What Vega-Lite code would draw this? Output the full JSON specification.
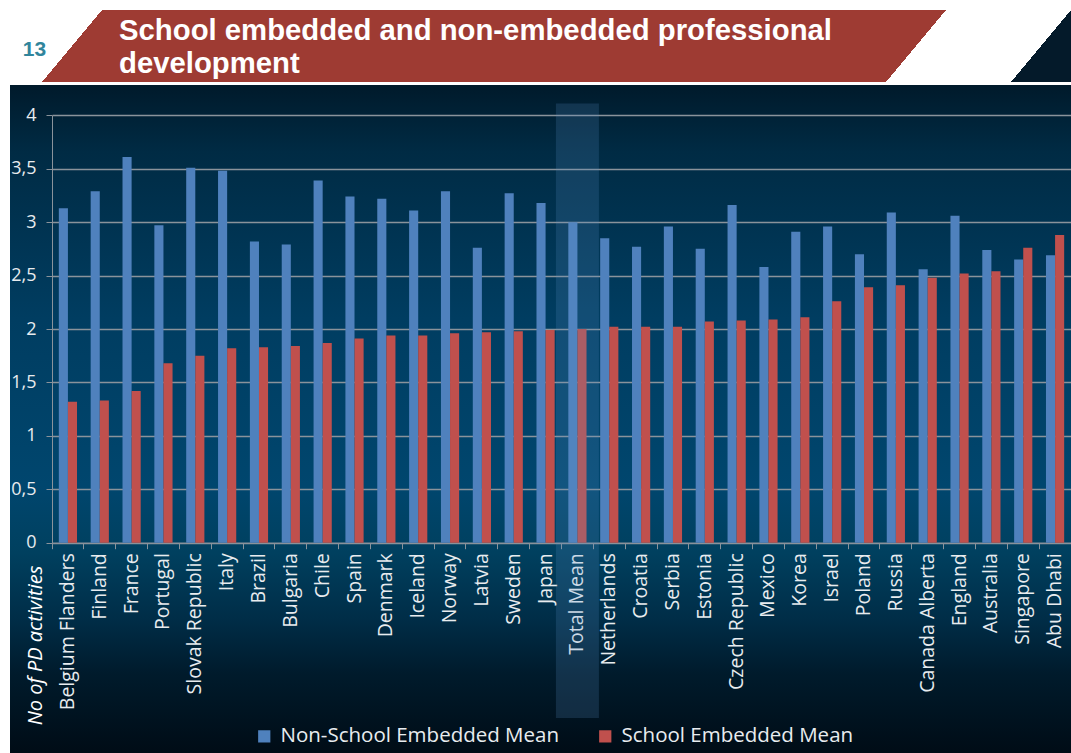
{
  "$schema": "https://vega.github.io/schema/vega-lite/v6.json",
  "background": "#ffffff",
  "padding": {"left": 10, "top": 10, "right": 0, "bottom": 0},
  "autosize": {"type": "pad"},
  "bounds": "flush",
  "spacing": 3,
  "title": {
    "text": "13",
    "anchor": "start",
    "frame": "group",
    "orient": "top",
    "offset": -50.2,
    "dx": 12.7,
    "baseline": "top",
    "color": "#31859c",
    "font": "Liberation Sans",
    "fontSize": 21,
    "fontWeight": "bold"
  },
  "config": {
    "font": "Open Sans",
    "view": {"stroke": null},
    "legend": {
      "orient": "none",
      "legendX": 244,
      "legendY": 716,
      "direction": "horizontal",
      "symbolType": "square",
      "symbolSize": 150,
      "symbolStrokeWidth": 0,
      "labelFont": "Open Sans",
      "labelFontSize": 20.5,
      "labelColor": "#e8ecef",
      "labelOffset": 6,
      "columnPadding": 35,
      "labelLimit": 0
    }
  },
  "datasets": {
    "pd": [
      {"country": "Belgium Flanders", "series": "Non-School Embedded Mean", "value": 3.13},
      {"country": "Belgium Flanders", "series": "School Embedded Mean", "value": 1.32},
      {"country": "Finland", "series": "Non-School Embedded Mean", "value": 3.29},
      {"country": "Finland", "series": "School Embedded Mean", "value": 1.33},
      {"country": "France", "series": "Non-School Embedded Mean", "value": 3.61},
      {"country": "France", "series": "School Embedded Mean", "value": 1.42},
      {"country": "Portugal", "series": "Non-School Embedded Mean", "value": 2.97},
      {"country": "Portugal", "series": "School Embedded Mean", "value": 1.68},
      {"country": "Slovak Republic", "series": "Non-School Embedded Mean", "value": 3.51},
      {"country": "Slovak Republic", "series": "School Embedded Mean", "value": 1.75},
      {"country": "Italy", "series": "Non-School Embedded Mean", "value": 3.48},
      {"country": "Italy", "series": "School Embedded Mean", "value": 1.82},
      {"country": "Brazil", "series": "Non-School Embedded Mean", "value": 2.82},
      {"country": "Brazil", "series": "School Embedded Mean", "value": 1.83},
      {"country": "Bulgaria", "series": "Non-School Embedded Mean", "value": 2.79},
      {"country": "Bulgaria", "series": "School Embedded Mean", "value": 1.84},
      {"country": "Chile", "series": "Non-School Embedded Mean", "value": 3.39},
      {"country": "Chile", "series": "School Embedded Mean", "value": 1.87},
      {"country": "Spain", "series": "Non-School Embedded Mean", "value": 3.24},
      {"country": "Spain", "series": "School Embedded Mean", "value": 1.91},
      {"country": "Denmark", "series": "Non-School Embedded Mean", "value": 3.22},
      {"country": "Denmark", "series": "School Embedded Mean", "value": 1.94},
      {"country": "Iceland", "series": "Non-School Embedded Mean", "value": 3.11},
      {"country": "Iceland", "series": "School Embedded Mean", "value": 1.94},
      {"country": "Norway", "series": "Non-School Embedded Mean", "value": 3.29},
      {"country": "Norway", "series": "School Embedded Mean", "value": 1.96},
      {"country": "Latvia", "series": "Non-School Embedded Mean", "value": 2.76},
      {"country": "Latvia", "series": "School Embedded Mean", "value": 1.97},
      {"country": "Sweden", "series": "Non-School Embedded Mean", "value": 3.27},
      {"country": "Sweden", "series": "School Embedded Mean", "value": 1.98},
      {"country": "Japan", "series": "Non-School Embedded Mean", "value": 3.18},
      {"country": "Japan", "series": "School Embedded Mean", "value": 1.99},
      {"country": "Total Mean", "series": "Non-School Embedded Mean", "value": 3.0},
      {"country": "Total Mean", "series": "School Embedded Mean", "value": 2.0},
      {"country": "Netherlands", "series": "Non-School Embedded Mean", "value": 2.85},
      {"country": "Netherlands", "series": "School Embedded Mean", "value": 2.02},
      {"country": "Croatia", "series": "Non-School Embedded Mean", "value": 2.77},
      {"country": "Croatia", "series": "School Embedded Mean", "value": 2.02},
      {"country": "Serbia", "series": "Non-School Embedded Mean", "value": 2.96},
      {"country": "Serbia", "series": "School Embedded Mean", "value": 2.02},
      {"country": "Estonia", "series": "Non-School Embedded Mean", "value": 2.75},
      {"country": "Estonia", "series": "School Embedded Mean", "value": 2.07},
      {"country": "Czech Republic", "series": "Non-School Embedded Mean", "value": 3.16},
      {"country": "Czech Republic", "series": "School Embedded Mean", "value": 2.08},
      {"country": "Mexico", "series": "Non-School Embedded Mean", "value": 2.58},
      {"country": "Mexico", "series": "School Embedded Mean", "value": 2.09},
      {"country": "Korea", "series": "Non-School Embedded Mean", "value": 2.91},
      {"country": "Korea", "series": "School Embedded Mean", "value": 2.11},
      {"country": "Israel", "series": "Non-School Embedded Mean", "value": 2.96},
      {"country": "Israel", "series": "School Embedded Mean", "value": 2.26},
      {"country": "Poland", "series": "Non-School Embedded Mean", "value": 2.7},
      {"country": "Poland", "series": "School Embedded Mean", "value": 2.39},
      {"country": "Russia", "series": "Non-School Embedded Mean", "value": 3.09},
      {"country": "Russia", "series": "School Embedded Mean", "value": 2.41},
      {"country": "Canada Alberta", "series": "Non-School Embedded Mean", "value": 2.56},
      {"country": "Canada Alberta", "series": "School Embedded Mean", "value": 2.48},
      {"country": "England", "series": "Non-School Embedded Mean", "value": 3.06},
      {"country": "England", "series": "School Embedded Mean", "value": 2.52},
      {"country": "Australia", "series": "Non-School Embedded Mean", "value": 2.74},
      {"country": "Australia", "series": "School Embedded Mean", "value": 2.54},
      {"country": "Singapore", "series": "Non-School Embedded Mean", "value": 2.65},
      {"country": "Singapore", "series": "School Embedded Mean", "value": 2.76},
      {"country": "Abu Dhabi", "series": "Non-School Embedded Mean", "value": 2.69},
      {"country": "Abu Dhabi", "series": "School Embedded Mean", "value": 2.88}
    ]
  },
  "vconcat": [
    {
      "width": 1061,
      "height": 72,
      "view": {
        "stroke": null,
        "fill": {
          "gradient": "linear",
          "x1": 0, "y1": 0, "x2": 1, "y2": 0.05655,
          "stops": [
            {"offset": 0, "color": "#ffffff"},
            {"offset": 0.086435, "color": "#ffffff"},
            {"offset": 0.086435, "color": "#9e3b33"},
            {"offset": 0.879375, "color": "#9e3b33"},
            {"offset": 0.879375, "color": "#ffffff"},
            {"offset": 0.996812, "color": "#ffffff"},
            {"offset": 0.996812, "color": "#041a2a"},
            {"offset": 1, "color": "#041a2a"}
          ]
        }
      },
      "title": {
        "text": ["School embedded and non-embedded professional", "development"],
        "anchor": "start",
        "frame": "group",
        "orient": "bottom",
        "offset": -65,
        "dx": 109,
        "baseline": "top",
        "color": "#ffffff",
        "font": "Liberation Sans",
        "fontSize": 29.3,
        "fontWeight": "bold",
        "lineHeight": 33
      },
      "data": {"values": [{}]},
      "mark": {"type": "text", "text": ""},
      "encoding": {}
    },
    {
      "width": 1061,
      "height": 668,
      "view": {
        "stroke": null,
        "fill": {
          "gradient": "linear",
          "x1": 0, "y1": 0, "x2": 0, "y2": 1,
          "stops": [
            {"offset": 0, "color": "#001a2b"},
            {"offset": 0.1, "color": "#002b44"},
            {"offset": 0.35, "color": "#003d61"},
            {"offset": 0.6, "color": "#00466e"},
            {"offset": 0.7, "color": "#00405f"},
            {"offset": 0.8, "color": "#002d47"},
            {"offset": 0.88, "color": "#001b2c"},
            {"offset": 1, "color": "#000c16"}
          ]
        }
      },
      "layer": [
        {
          "data": {"name": "pd"},
          "mark": {"type": "bar"},
          "encoding": {
            "x": {
              "field": "country",
              "type": "nominal",
              "sort": null,
              "scale": {
                "domain": ["Belgium Flanders", "Finland", "France", "Portugal", "Slovak Republic", "Italy", "Brazil", "Bulgaria", "Chile", "Spain", "Denmark", "Iceland", "Norway", "Latvia", "Sweden", "Japan", "Total Mean", "Netherlands", "Croatia", "Serbia", "Estonia", "Czech Republic", "Mexico", "Korea", "Israel", "Poland", "Russia", "Canada Alberta", "England", "Australia", "Singapore", "Abu Dhabi"],
                "range": [42, 1061],
                "paddingInner": 0,
                "paddingOuter": 0
              },
              "axis": {
                "orient": "bottom",
                "offset": -210.3,
                "title": null,
                "bandPosition": 0,
                "labelOffset": 0,
                "labelAngle": 270,
                "labelAlign": "right",
                "labelBaseline": "middle",
                "labelFont": "Open Sans",
                "labelFontSize": 19.5,
                "labelColor": "#e8ecef",
                "labelPadding": 4,
                "labelLimit": 0,
                "labelOverlap": false,
                "tickSize": 6,
                "tickColor": "#8a939b",
                "domainColor": "#8a939b",
                "grid": false
              }
            },
            "xOffset": {
              "field": "series",
              "type": "nominal",
              "scale": {"paddingInner": 0, "paddingOuter": 0.75}
            },
            "y": {
              "field": "value",
              "type": "quantitative",
              "scale": {"domain": [0, 4], "range": [457.7, 30.3], "nice": false, "zero": true},
              "axis": {
                "orient": "left",
                "offset": -42,
                "values": [0, 0.5, 1, 1.5, 2, 2.5, 3, 3.5, 4],
                "labelExpr": "replace(format(datum.value, '.1~f'), '.', ',')",
                "labelFont": "Open Sans",
                "labelFontSize": 18,
                "labelColor": "#e8ecef",
                "labelPadding": 10,
                "tickSize": 6,
                "tickColor": "#8a939b",
                "domainColor": "#8a939b",
                "grid": true,
                "gridColor": "#8a939b",
                "gridWidth": 1.3,
                "title": "No of PD activities",
                "titleFont": "Open Sans",
                "titleFontSize": 20,
                "titleFontStyle": "italic",
                "titleFontWeight": "normal",
                "titleColor": "#ffffff",
                "titleAngle": 270,
                "titleAlign": "center",
                "titleBaseline": "middle",
                "titleX": -17,
                "titleY": 560
              }
            },
            "color": {
              "field": "series",
              "type": "nominal",
              "scale": {"range": ["#4f81bd", "#c0504d"]},
              "legend": {"title": null}
            }
          }
        },
        {
          "data": {"values": [{"country": "Total Mean"}]},
          "mark": {"type": "bar", "fill": "#5a90c8", "fillOpacity": 0.2, "width": {"band": 1.35}},
          "encoding": {
            "x": {"field": "country", "type": "nominal"},
            "y": {"datum": 4.11, "type": "quantitative"},
            "y2": {"datum": -1.64}
          }
        }
      ]
    }
  ]
}
